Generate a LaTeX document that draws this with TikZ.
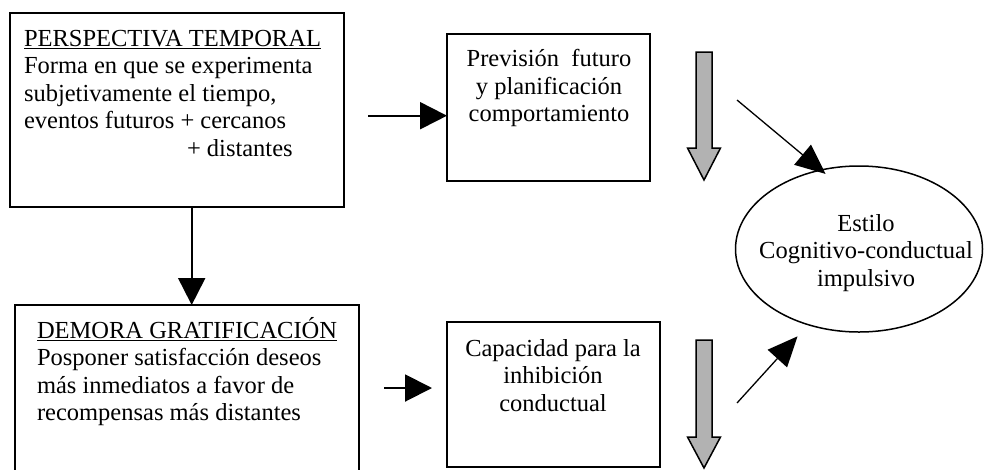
\documentclass[tikz,border=0pt]{standalone}
\usepackage{fontspec}
\setmainfont{Liberation Serif}
\usetikzlibrary{arrows.meta,shapes.geometric}
\tikzset{
  boxframe/.style={draw, line width=2pt, rectangle, inner sep=0pt, outer sep=0pt, anchor=north west},
  txt/.style={inner sep=0pt, outer sep=0pt, font=\fontsize{24.5}{27.5}\selectfont},
  blkarrow/.style={line width=2pt, -{Triangle[length=27pt, width=27pt]}},
  thinarrow/.style={line width=1.3pt, -{Triangle[length=30pt, width=26pt]}},
  grayarrow/.style={draw, line width=1.5pt, fill=gray!60, line join=miter},
}
\begin{document}
\begin{tikzpicture}[x=1pt, y=-1pt]
\useasboundingbox (0,0) rectangle (984,469);
\clip (0,0) rectangle (984,469);
% boxes
\node[boxframe, minimum width=334, minimum height=194] (b1) at (10,13) {};
\node[boxframe, minimum width=203, minimum height=147] (b2) at (447,34) {};
\node[boxframe, minimum width=344, minimum height=200] (b3) at (15,305) {};
\node[boxframe, minimum width=213, minimum height=145] (b4) at (447,322) {};
\node[draw, ellipse, line width=1.5pt, inner sep=0pt, minimum width=247, minimum height=166] (e) at (859,249) {};
% texts
\node[txt, align=left, anchor=north west] (t1) at (24,26.75)
  {\underline{PERSPECTIVA TEMPORAL}\strut\\Forma en que se experimenta\\subjetivamente el tiempo,\\eventos futuros + cercanos\\\hspace*{163pt}+ distantes};
\node[txt, align=center, anchor=north] (t2) at (549,47.4)
  {Previsión\ \ futuro\strut\\y planificación\\comportamiento};
\node[txt, align=left, anchor=north west] (t3) at (37,317.4)
  {\underline{DEMORA GRATIFICACIÓN}\strut\\Posponer satisfacción deseos\\más inmediatos a favor de\\recompensas más distantes};
\node[txt, align=center, anchor=north] (t4) at (553,336.75)
  {Capacidad para la\strut\\inhibición\\conductual};
\node[txt, align=center, anchor=north] (te) at (866,211.75)
  {Estilo\strut\\Cognitivo-conductual\\impulsivo};
% connectors
\coordinate (vx) at (191.7,0);
\draw[blkarrow] (b1.south -| vx) -- (b3.north -| vx);
\coordinate (s1) at (368,115.7);
\draw[blkarrow] (s1) -- (s1 -| b2.west);
\coordinate (s2) at (384,388);
\coordinate (s2e) at (432,388);
\draw[blkarrow] (s2) -- (s2e);
\coordinate (d1) at (737,100);
\draw[thinarrow, shorten >=-7pt] (d1) -- (e.116);
\coordinate (d2) at (737,403);
\draw[thinarrow, shorten >=15pt] (d2) -- (e.236.5);
% gray down arrows
\draw[grayarrow] (696,52) -- (712,52) -- (712,148) -- (720.5,148) -- (704,180) -- (687.5,148) -- (696,148) -- cycle;
\draw[grayarrow] (696,340) -- (712,340) -- (712,437) -- (720.5,437) -- (704,468) -- (687.5,437) -- (696,437) -- cycle;
\end{tikzpicture}
\end{document}
